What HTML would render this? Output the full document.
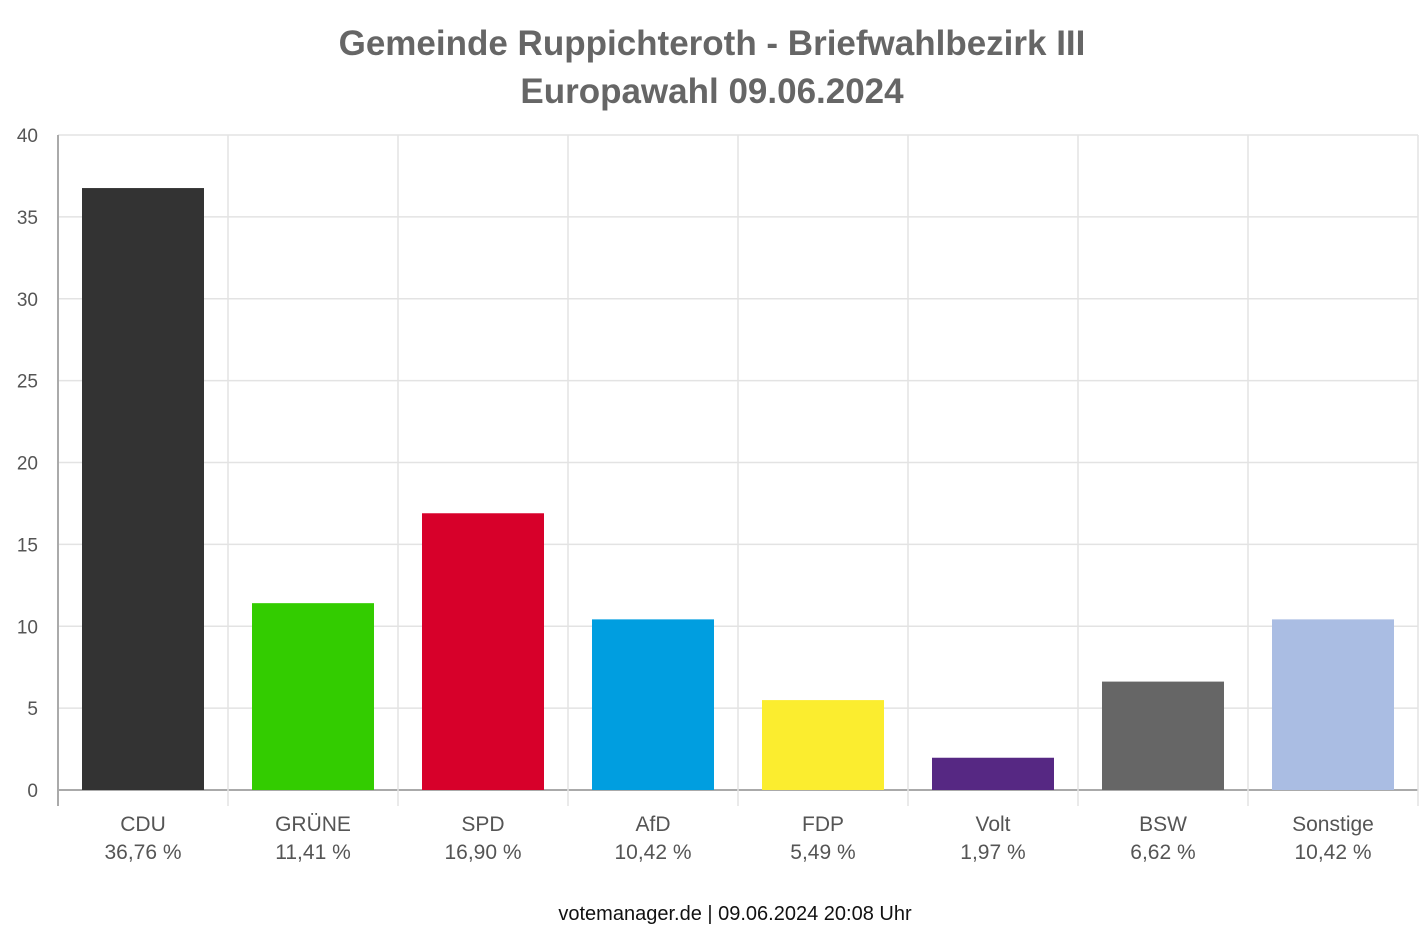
<!DOCTYPE html>
<html><head><meta charset="utf-8"><style>
body{margin:0;background:#fff;font-family:"Liberation Sans",Arial,sans-serif}
svg{display:block}
</style></head><body>
<svg id="chart" width="1424" height="936" xmlns="http://www.w3.org/2000/svg">
<text x="712" y="55" text-anchor="middle" font-size="35" font-weight="bold" fill="#666">Gemeinde Ruppichteroth - Briefwahlbezirk III</text>
<text x="712" y="103" text-anchor="middle" font-size="35" font-weight="bold" fill="#666">Europawahl 09.06.2024</text>
<g id="grid"></g>
<g id="bars"></g>
<g id="labels"></g>
<g id="yticks"></g>
<text x="735" y="920" text-anchor="middle" font-size="20" fill="#111">votemanager.de | 09.06.2024 20:08 Uhr</text>
</svg>
<script>
const categories=["CDU","GRÜNE","SPD","AfD","FDP","Volt","BSW","Sonstige"];
const values=[36.76,11.41,16.90,10.42,5.49,1.97,6.62,10.42];
const valueLabels=["36,76 %","11,41 %","16,90 %","10,42 %","5,49 %","1,97 %","6,62 %","10,42 %"];
const colors=["#333333","#33cc00","#d7002a","#009ee0","#fbed2f","#562883","#666666","#aabde3"];
const yTicks=[0,5,10,15,20,25,30,35,40];
const NS="http://www.w3.org/2000/svg";
const x0=58,x1=1418,yBase=790,yTop=135,yMax=40;
const band=(x1-x0)/categories.length;
const y=v=>yBase-(v/yMax)*(yBase-yTop);
function mk(tag,attrs,parent){const e=document.createElementNS(NS,tag);for(const k in attrs)e.setAttribute(k,attrs[k]);parent.appendChild(e);return e;}
const grid=document.getElementById('grid'),bars=document.getElementById('bars'),labels=document.getElementById('labels'),yt=document.getElementById('yticks');
yTicks.forEach(t=>{
 const l=mk('line',{x1:x0,x2:x1,y1:y(t),y2:y(t),stroke:t===0?'#aaa':'#e3e3e3','stroke-width':t===0?2:1.5},grid);
 
 
 const tx=mk('text',{x:38,y:y(t)+7,'text-anchor':'end','font-size':19,fill:'#555'},yt);
 tx.textContent=t;
 
 
});
for(let i=0;i<=categories.length;i++){
 const xx=x0+i*band;
 const l=mk('line',{x1:xx,x2:xx,y1:yTop,y2:yBase+16,stroke:i===0?'#aaa':'#e3e3e3','stroke-width':i===0?2:1.5},grid);
 
 
}
categories.forEach((c,i)=>{
 const bx=x0+i*band+24,bw=band-48;
 const r=mk('rect',{x:bx,y:y(values[i]),width:bw,height:yBase-y(values[i]),fill:colors[i]},bars);
 
 
 const cx=x0+i*band+band/2;
 const t1=mk('text',{x:cx,y:831,'text-anchor':'middle','font-size':21,fill:'#555'},labels);
 t1.textContent=c;
 
 
 const t2=mk('text',{x:cx,y:859,'text-anchor':'middle','font-size':21,fill:'#555'},labels);
 t2.textContent=valueLabels[i];
 
 
});
</script>
</body></html>
